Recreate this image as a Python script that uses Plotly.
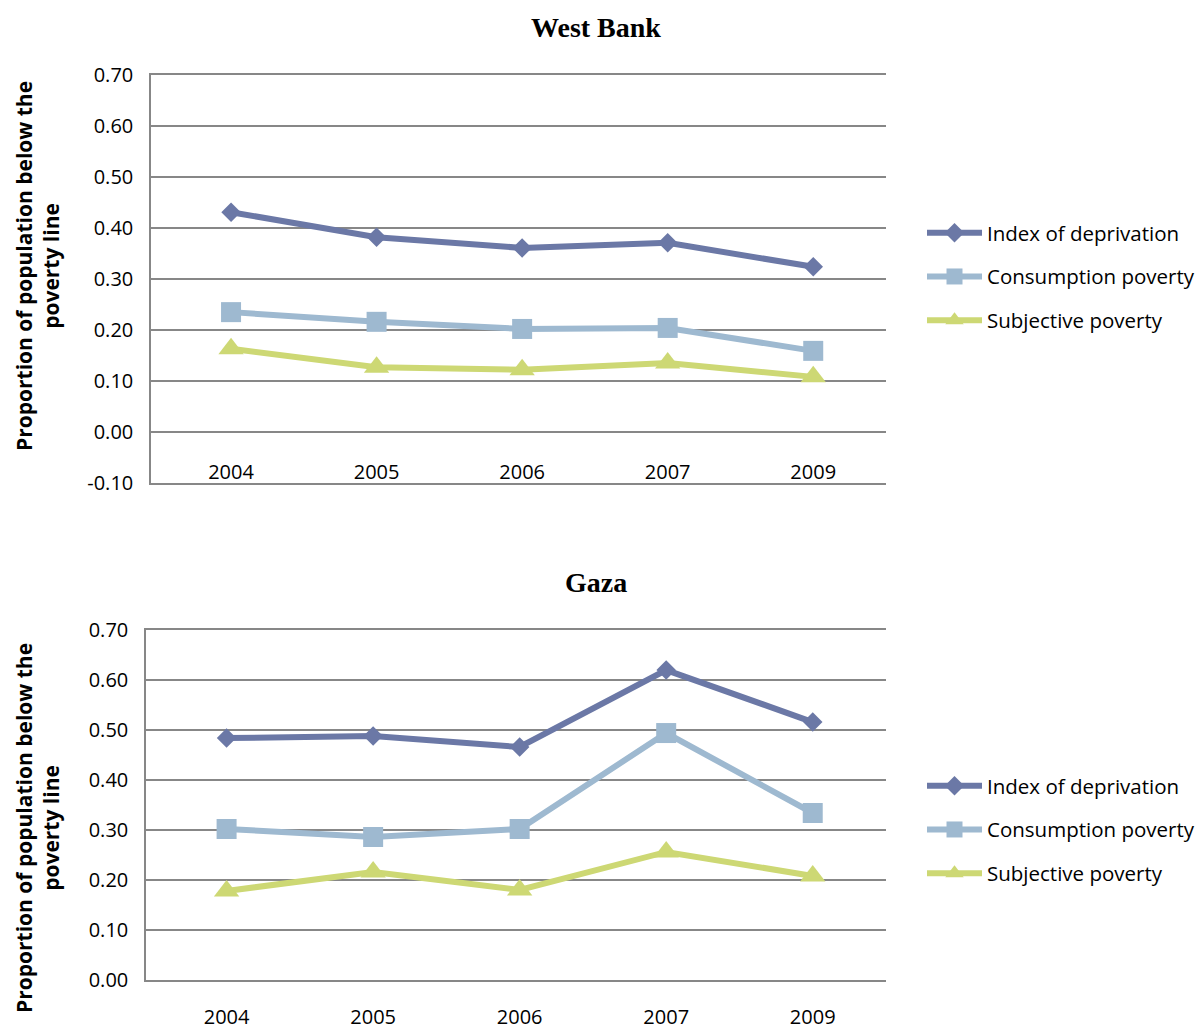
import plotly.graph_objects as go

years = ["2004", "2005", "2006", "2007", "2009"]
series_names = ["Index of deprivation", "Consumption poverty", "Subjective poverty"]

wb_index = [0.431, 0.382, 0.361, 0.371, 0.324]
wb_consumption = [0.235, 0.216, 0.202, 0.204, 0.159]
wb_subjective = [0.163, 0.127, 0.122, 0.135, 0.108]

gz_index = [0.484, 0.488, 0.466, 0.620, 0.516]
gz_consumption = [0.302, 0.286, 0.302, 0.494, 0.334]
gz_subjective = [0.178, 0.216, 0.180, 0.256, 0.208]

y_ticks_wb = [-0.1, 0.0, 0.1, 0.2, 0.3, 0.4, 0.5, 0.6, 0.7]
y_ticks_gz = [0.0, 0.1, 0.2, 0.3, 0.4, 0.5, 0.6, 0.7]

colors = ["#6B78A6", "#9EB9D0", "#CDD874"]
symbols = ["diamond", "square", "triangle-up"]
msizes = [15, 20, 22]

W, H = 1198, 1031
FONT = "Open Sans"
TICK = dict(family=FONT, size=20, color="#000")

def px_x(v):
    return v / W

def px_y(v):
    return 1 - v / H

fig = go.Figure()

wb = [wb_index, wb_consumption, wb_subjective]
gz = [gz_index, gz_consumption, gz_subjective]

for i, name in enumerate(series_names):
    fig.add_trace(go.Scatter(
        x=years, y=wb[i], name=name, mode="lines+markers",
        line=dict(color=colors[i], width=6),
        marker=dict(symbol=symbols[i], size=msizes[i], color=colors[i]),
        xaxis="x", yaxis="y", legend="legend", legendgroup="a%d" % i,
    ))
for i, name in enumerate(series_names):
    fig.add_trace(go.Scatter(
        x=years, y=gz[i], name=name, mode="lines+markers",
        line=dict(color=colors[i], width=6),
        marker=dict(symbol=symbols[i], size=msizes[i], color=colors[i]),
        xaxis="x2", yaxis="y2", legend="legend2", legendgroup="b%d" % i,
    ))

grid = "#878787"
xcommon = dict(showgrid=False, zeroline=False, showline=True, mirror=True, linecolor=grid,
               linewidth=1.5, ticks="", tickfont=TICK, automargin=False, type="category",
               range=[-0.55, 4.5])
ycommon = dict(showgrid=True, gridcolor=grid, gridwidth=1.5, zeroline=False,
               showline=True, linecolor=grid, linewidth=1.5, ticks="",
               ticklabelstandoff=12, tickfont=TICK, automargin=False)

leg = dict(xanchor="left", yanchor="top", font=dict(family=FONT, size=20.5, color="#000"),
           tracegroupgap=14, itemwidth=55, bgcolor="rgba(0,0,0,0)")

fig.update_layout(
    width=W, height=H,
    margin=dict(l=0, r=0, t=0, b=0, autoexpand=False),
    plot_bgcolor="white", paper_bgcolor="white",
    xaxis=dict(domain=[px_x(151), px_x(886)], anchor="y",
               ticklabelstandoff=-30, **xcommon),
    yaxis=dict(domain=[px_y(483), px_y(75)], anchor="x", range=[-0.1002, 0.7002],
               tickvals=y_ticks_wb, ticktext=["%.2f" % v for v in y_ticks_wb], **ycommon),
    xaxis2=dict(domain=[px_x(146), px_x(886)], anchor="y2",
                ticklabelstandoff=18, **xcommon),
    yaxis2=dict(domain=[px_y(980), px_y(630)], anchor="x2", range=[-0.0002, 0.7002],
                tickvals=y_ticks_gz, ticktext=["%.2f" % v for v in y_ticks_gz], **ycommon),
    legend=dict(x=px_x(922), y=px_y(213), **leg),
    legend2=dict(x=px_x(922), y=px_y(766), **leg),
    showlegend=True,
)

title_font = dict(family="Liberation Serif", size=28, color="#000")
fig.add_annotation(text="<b>West Bank</b>", x=px_x(596), y=px_y(27), xref="paper", yref="paper",
                   xanchor="center", yanchor="middle", showarrow=False, font=title_font)
fig.add_annotation(text="<b>Gaza</b>", x=px_x(596), y=px_y(582), xref="paper", yref="paper",
                   xanchor="center", yanchor="middle", showarrow=False, font=title_font)

ytitle = "<b>Proportion of population below the<br>poverty line</b>"
yfont = dict(family=FONT, size=21, color="#000")
fig.add_annotation(text=ytitle, x=px_x(37), y=px_y(266), xref="paper", yref="paper",
                   xanchor="center", yanchor="middle",
                   showarrow=False, textangle=-90, font=yfont)
fig.add_annotation(text=ytitle, x=px_x(37), y=px_y(828), xref="paper", yref="paper",
                   xanchor="center", yanchor="middle",
                   showarrow=False, textangle=-90, font=yfont)

fig.write_html("out.html")
